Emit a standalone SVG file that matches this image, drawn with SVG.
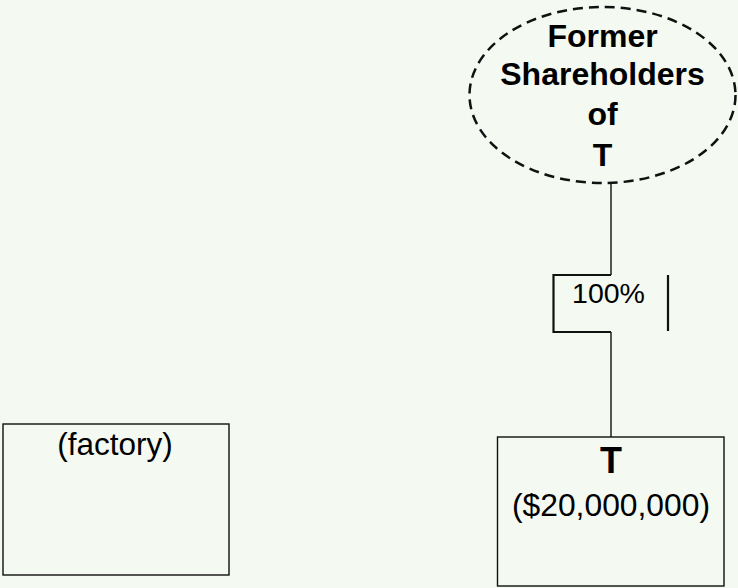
<svg xmlns="http://www.w3.org/2000/svg" width="738" height="588" viewBox="0 0 738 588">
  <style>
    .box { fill: none; stroke: #111; stroke-width: 1.4; }
    .txt { font-family: "Liberation Sans", Arial, sans-serif; fill: #000; text-anchor: middle; }
    .bold { font-weight: bold; }
    .wire { fill: none; stroke: #111; stroke-width: 1.4; }
    .bracket { fill: none; stroke: #111; stroke-width: 2.2; }
  </style>
  <rect width="738" height="588" fill="#F4F9F1"/>

  <g id="connectors">
    <line class="wire" x1="611" y1="183" x2="611" y2="275"/>
    <polyline class="bracket" points="611,275 553.5,275 553.5,332 611,332"/>
    <line class="wire" x1="611" y1="332" x2="611" y2="437"/>
    <line class="bracket" x1="668" y1="275" x2="668" y2="331"/>
    <text class="txt" x="608.5" y="303" font-size="28.5">100%</text>
  </g>

  <g id="former-shareholders">
    <ellipse cx="602.5" cy="95" rx="133" ry="88" fill="none" stroke="#111" stroke-width="2.5" stroke-dasharray="10,6"/>
    <text class="txt bold" x="602.5" y="46.5" font-size="32">Former</text>
    <text class="txt bold" x="602.5" y="85" font-size="32">Shareholders</text>
    <text class="txt bold" x="602.5" y="124.5" font-size="32">of</text>
    <text class="txt bold" x="602.5" y="165.5" font-size="32">T</text>
  </g>

  <g id="factory">
    <rect class="box" x="3" y="424" width="226" height="151"/>
    <text class="txt" x="115" y="455" font-size="31.5">(factory)</text>
  </g>

  <g id="target">
    <rect class="box" x="497.5" y="437" width="226.5" height="149"/>
    <text class="txt bold" x="611" y="473" font-size="36">T</text>
    <text class="txt" x="611" y="516" font-size="31.8">($20,000,000)</text>
  </g>
</svg>
